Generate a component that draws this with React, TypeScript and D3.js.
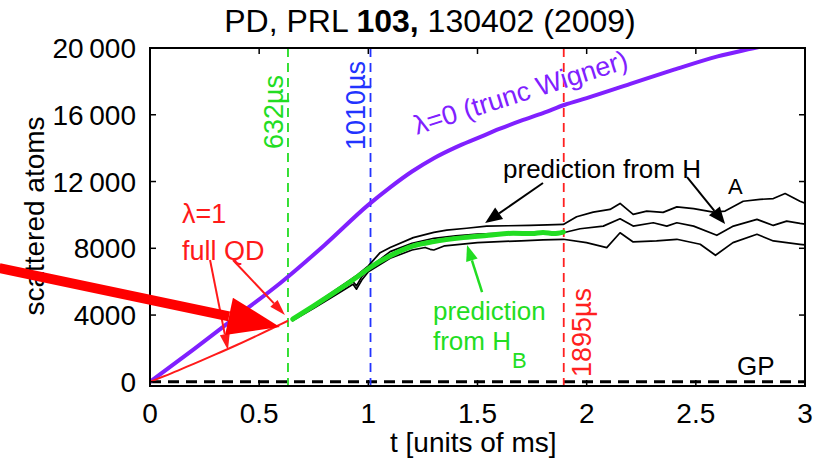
import * as d3 from 'd3';

// ---- data ----
const xTicks = [0, 0.5, 1, 1.5, 2, 2.5, 3];
const xTickLabels = ['0', '0.5', '1', '1.5', '2', '2.5', '3'];
const yTicks = [0, 4000, 8000, 12000, 16000, 20000];
const yTickLabels = ['0', '4000', '8000', '12\u2009000', '16\u2009000', '20\u2009000'];

// lambda = 0 (truncated Wigner)
const wigner: [number, number][] = [
  [0, 0], [0.2, 1950], [0.4, 3950], [0.6, 5950], [0.8, 8200], [1.0, 10600],
  [1.1, 11650], [1.2, 12600], [1.3, 13400], [1.4, 14050], [1.5, 14600],
  [1.6, 15150], [1.7, 15650], [1.8, 16100], [1.9, 16600], [2.0, 17000],
  [2.2, 17850], [2.4, 18700], [2.6, 19500], [2.8, 20100], [3.0, 20800],
];

// lambda = 1 (full QD)
const fullQD: [number, number][] = [
  [0, 0], [0.1, 520], [0.2, 1080], [0.3, 1640], [0.4, 2220],
  [0.5, 2830], [0.6, 3460], [0.632, 3660],
];

// prediction from H_B
const predB: [number, number][] = [
  [0.654, 3760], [0.75, 4550], [0.85, 5400], [0.95, 6300], [1.008, 6850],
  [1.1, 7550], [1.206, 8140], [1.3, 8400], [1.435, 8640], [1.55, 8780],
  [1.664, 8900], [1.75, 8880], [1.8, 8950], [1.85, 8880], [1.893, 8970],
];

// prediction from H_A (three runs)
const predAHigh: [number, number][] = [
  [0.65, 3750], [0.75, 4600], [0.85, 5500], [0.95, 6400], [1.0, 6950],
  [1.054, 7740], [1.1, 8050], [1.206, 8640], [1.3, 8950], [1.359, 9090],
  [1.45, 9200], [1.542, 9330], [1.64, 9350], [1.74, 9370], [1.82, 9400],
  [1.893, 9430], [1.954, 9890], [2.03, 10170], [2.107, 10330], [2.153, 10690],
  [2.213, 10030], [2.275, 10230], [2.35, 10150], [2.413, 10480], [2.49, 10380],
  [2.58, 10170], [2.634, 10230], [2.717, 10820], [2.794, 10930], [2.855, 10980],
  [2.909, 11280], [2.977, 10820], [3.0, 10700],
];
const predAMid: [number, number][] = [
  [0.65, 3700], [0.75, 4500], [0.85, 5350], [0.93, 6000], [0.946, 5750],
  [0.97, 6300], [1.0, 6800], [1.1, 7800], [1.2, 8300], [1.3, 8600],
  [1.4, 8750], [1.5, 8850], [1.6, 8900], [1.7, 8920], [1.8, 8950],
  [1.893, 8930], [1.97, 9170], [2.076, 9330], [2.153, 9770], [2.213, 9330],
  [2.305, 9530], [2.367, 9330], [2.413, 9530], [2.49, 9330], [2.596, 8780],
  [2.672, 9330], [2.78, 9730], [2.855, 9370], [2.916, 9630], [2.977, 9490],
  [3.0, 9450],
];
const predALow: [number, number][] = [
  [0.65, 3650], [0.75, 4400], [0.85, 5200], [0.93, 5850], [0.946, 5550],
  [0.97, 6100], [1.0, 6600], [1.1, 7400], [1.2, 7900], [1.26, 8050],
  [1.283, 7940], [1.3, 7900], [1.35, 8150], [1.5, 8340], [1.6, 8400],
  [1.7, 8450], [1.8, 8500], [1.893, 8540], [1.999, 8340], [2.092, 8040],
  [2.153, 8930], [2.213, 8380], [2.32, 8440], [2.413, 8540], [2.52, 8240],
  [2.59, 7580], [2.67, 8340], [2.78, 8840], [2.855, 8440], [2.977, 8240],
  [3.0, 8200],
];

const markerTimes = [0.632, 1.01, 1.895];
const markerLabels = ['632\u00b5s', '1010\u00b5s', '1895\u00b5s'];
const markerColors = ['#22dd22', '#2233ff', '#ff2020'];

// annotation arrows in data units: [t0, n0, t1, n1]
const redArrows = [
  [0.275, 7300, 0.357, 1905],
  [0.38, 7300, 0.618, 4002],
];
const bigArrow = [-0.69, 6818, 0.595, 3283];
const blackArrows = [
  [1.8, 11910, 1.535, 9514],
  [2.46, 12270, 2.634, 9454],
];
const greenArrow = [1.521, 5380, 1.452, 8196];

const W = 815;
const H = 460;
const FONT = "'Liberation Sans', Arial, Helvetica, sans-serif";

const x = d3.scaleLinear().domain([0, 3]).range([150, 805]);
const y = d3.scaleLinear().domain([-250, 20000]).range([386, 48]);

const line = d3.line<[number, number]>()
  .x(d => x(d[0]))
  .y(d => y(d[1]));
const smooth = d3.line<[number, number]>()
  .x(d => x(d[0]))
  .y(d => y(d[1]))
  .curve(d3.curveMonotoneX);

function head(a: number[], len: number, half: number) {
  const x0 = x(a[0]), y0 = y(a[1]), x1 = x(a[2]), y1 = y(a[3]);
  const dx = x1 - x0, dy = y1 - y0;
  const d = Math.hypot(dx, dy);
  const ux = dx / d, uy = dy / d;
  const bx = x1 - ux * len, by = y1 - uy * len;
  const pts = [
    [x1, y1],
    [bx - uy * half, by + ux * half],
    [bx + uy * half, by - ux * half],
  ];
  return { x0, y0, bx, by, pts: pts.map(p => p.join(',')).join(' ') };
}

function Arrow({ a, color, width, len, half }: { a: number[]; color: string; width: number; len: number; half: number }) {
  const h = head(a, len, half);
  return (
    <g>
      <line x1={h.x0} y1={h.y0} x2={h.bx} y2={h.by} stroke={color} strokeWidth={width} />
      <polygon points={h.pts} fill={color} />
    </g>
  );
}

export default function App() {
  const [x0, x1] = x.range();
  const [yb, yt] = y.range();
  return (
    <svg width={W} height={H} style={{ position: 'absolute', left: 0, top: 0, background: '#fff' }}
      fontFamily={FONT}>
      <defs>
        <clipPath id="plot">
          <rect x={x0} y={yt} width={x1 - x0} height={yb - yt} />
        </clipPath>
      </defs>

      <text x={430} y={32} fontSize={32} textAnchor="middle">
        PD, PRL <tspan fontWeight="bold">103,</tspan> 130402 (2009)
      </text>

      <g clipPath="url(#plot)">
        {/* GP */}
        <line x1={x0} x2={x1} y1={y(0)} y2={y(0)} stroke="#000" strokeWidth={3} strokeDasharray="11,7" />
        {markerTimes.map((t, i) => (
          <line key={i} x1={x(t)} x2={x(t)} y1={yt} y2={yb} stroke={markerColors[i]}
            strokeWidth={1.8} strokeDasharray="9,6" />
        ))}
        <path d={smooth(wigner) || ''} fill="none" stroke="#8020ff" strokeWidth={4} />
        <path d={smooth(fullQD) || ''} fill="none" stroke="#ff1a1a" strokeWidth={2} />
        {[predAHigh, predAMid, predALow].map((s, i) => (
          <path key={i} d={line(s) || ''} fill="none" stroke="#000" strokeWidth={1.7} strokeLinejoin="round" />
        ))}
        <path d={smooth(predB) || ''} fill="none" stroke="#22dd22" strokeWidth={5} strokeLinecap="round" />
      </g>

      {/* frame and ticks */}
      <rect x={x0} y={yt} width={x1 - x0} height={yb - yt} fill="none" stroke="#000" strokeWidth={2} />
      {xTicks.map((t, i) => (
        <g key={i}>
          <line x1={x(t)} x2={x(t)} y1={yb} y2={yb - 6} stroke="#000" strokeWidth={1.5} />
          <line x1={x(t)} x2={x(t)} y1={yt} y2={yt + 6} stroke="#000" strokeWidth={1.5} />
          <text x={x(t)} y={423} fontSize={28} textAnchor="middle">{xTickLabels[i]}</text>
        </g>
      ))}
      {yTicks.map((v, i) => (
        <g key={i}>
          <line x1={x0} x2={x0 + 6} y1={y(v)} y2={y(v)} stroke="#000" strokeWidth={1.5} />
          <line x1={x1} x2={x1 - 6} y1={y(v)} y2={y(v)} stroke="#000" strokeWidth={1.5} />
          <text x={136} y={y(v) + 10} fontSize={28} textAnchor="end">{yTickLabels[i]}</text>
        </g>
      ))}
      <text x={390} y={452} fontSize={28}>t [units of ms]</text>
      <text transform="translate(44,216) rotate(-90)" fontSize={28} textAnchor="middle">scattered atoms</text>

      {/* marker labels */}
      <text transform={`translate(${x(markerTimes[0]) - 5},149) rotate(-90)`} fontSize={27} fill={markerColors[0]}>{markerLabels[0]}</text>
      <text transform={`translate(${x(markerTimes[1]) - 6},150) rotate(-90)`} fontSize={27} fill={markerColors[1]}>{markerLabels[1]}</text>
      <text transform={`translate(${x(markerTimes[2]) + 27},377) rotate(-90)`} fontSize={27} fill={markerColors[2]}>{markerLabels[2]}</text>

      {/* annotations */}
      <text transform={`translate(${x(1.223)},${y(14800)}) rotate(-17.5)`} fontSize={27} fill="#8020ff">
        {'\u03bb=0 (trunc Wigner)'}
      </text>
      <text x={x(0.147)} y={y(9514)} fontSize={27} fill="#ff1a1a">{'\u03bb=1'}</text>
      <text x={x(0.147)} y={y(7297)} fontSize={27} fill="#ff1a1a">full QD</text>
      {redArrows.map((a, i) => (
        <Arrow key={i} a={a} color="#ff1a1a" width={2} len={16} half={5} />
      ))}
      <Arrow a={bigArrow} color="#ff0000" width={10} len={52} half={19} />

      <text x={x(1.617)} y={y(12210)} fontSize={26}>prediction from H</text>
      <text x={x(2.647)} y={y(11252)} fontSize={22}>A</text>
      {blackArrows.map((a, i) => (
        <Arrow key={i} a={a} color="#000" width={2} len={17} half={7} />
      ))}

      <text x={x(1.296)} y={y(3700)} fontSize={26} fill="#22dd22">prediction</text>
      <text x={x(1.296)} y={y(1905)} fontSize={26} fill="#22dd22">from H</text>
      <text x={x(1.658)} y={y(827)} fontSize={22} fill="#22dd22">B</text>
      <Arrow a={greenArrow} color="#22dd22" width={2.5} len={16} half={6} />

      <text x={x(2.689)} y={y(407)} fontSize={26}>GP</text>
    </svg>
  );
}
